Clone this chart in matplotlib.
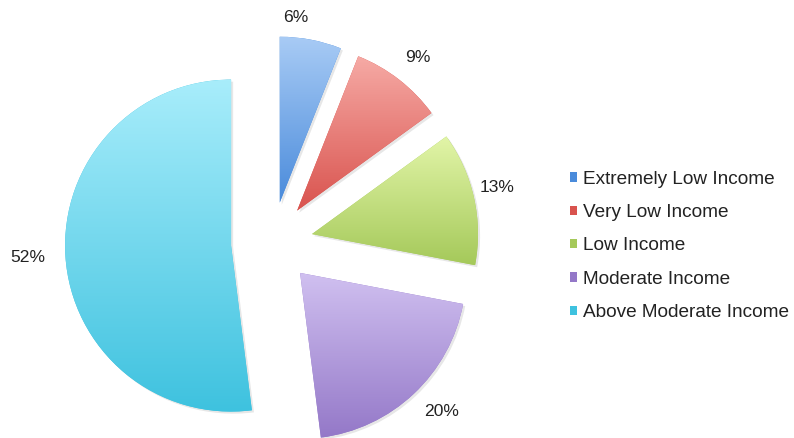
import matplotlib
matplotlib.use('Agg')
import matplotlib.pyplot as plt
import matplotlib.patheffects as pe
import numpy as np
from matplotlib.colors import LinearSegmentedColormap

plt.rcParams['font.family'] = ['Liberation Sans', 'DejaVu Sans']

# Share of households by income category
categories = ['Extremely Low Income', 'Very Low Income', 'Low Income',
              'Moderate Income', 'Above Moderate Income']
shares = [6, 9, 13, 20, 52]

# light (top) / dark (bottom) colour for each slice
top_colors = ['#a8cbf5', '#f6aaa5', '#e2f5a8', '#d0c0f0', '#a8edfb']
bottom_colors = ['#4a8bdb', '#d9534e', '#a5c95a', '#9478c8', '#3ec2df']

fig = plt.figure(figsize=(7.94, 4.38), dpi=100)
ax = fig.add_axes([0, 0, 1, 1])

R = 166
wedges, _ = ax.pie(shares, startangle=90, counterclock=False,
                   explode=[0.247 * R] * len(shares), radius=R,
                   center=(272, 195), colors=bottom_colors,
                   wedgeprops=dict(linewidth=0))

# vertical gradient fill, clipped to each wedge, with a faint drop shadow
for w, c_top, c_bot in zip(wedges, top_colors, bottom_colors):
    w.set_path_effects([pe.SimplePatchShadow(offset=(1.5, -1.5),
                                             shadow_rgbFace='#888888',
                                             alpha=0.2),
                        pe.Normal()])
    cmap = LinearSegmentedColormap.from_list('g', [c_bot, c_top])
    ext = w.get_path().get_extents()
    grad = np.linspace(0, 1, 256).reshape(-1, 1)
    im = ax.imshow(grad, cmap=cmap, origin='lower', aspect='auto',
                   extent=[ext.x0, ext.x1, ext.y0, ext.y1], zorder=2)
    im.set_clip_path(w)

# percentage labels
label_pos = [(296, 420), (418, 380), (497, 250), (442, 26), (28, 180)]
for s, (x, y) in zip(shares, label_pos):
    ax.text(x, y, f'{s}%', fontsize=12.6, color='#222222',
            ha='center', va='center', zorder=3)

ax.set_xlim(0, 794)
ax.set_ylim(0, 438)
ax.set_aspect('equal')
ax.axis('off')

leg = ax.legend(wedges, categories, loc='center left',
                bbox_to_anchor=(570, 192), bbox_transform=ax.transData,
                frameon=False, fontsize=13.7, borderpad=0, borderaxespad=0,
                handlelength=0.37, handleheight=0.37, handletextpad=0.3,
                labelspacing=0.86)
for t in leg.get_texts():
    t.set_color('#222222')
for h in leg.legend_handles:
    h.set_path_effects([])

fig.savefig('out.png', dpi=100)
